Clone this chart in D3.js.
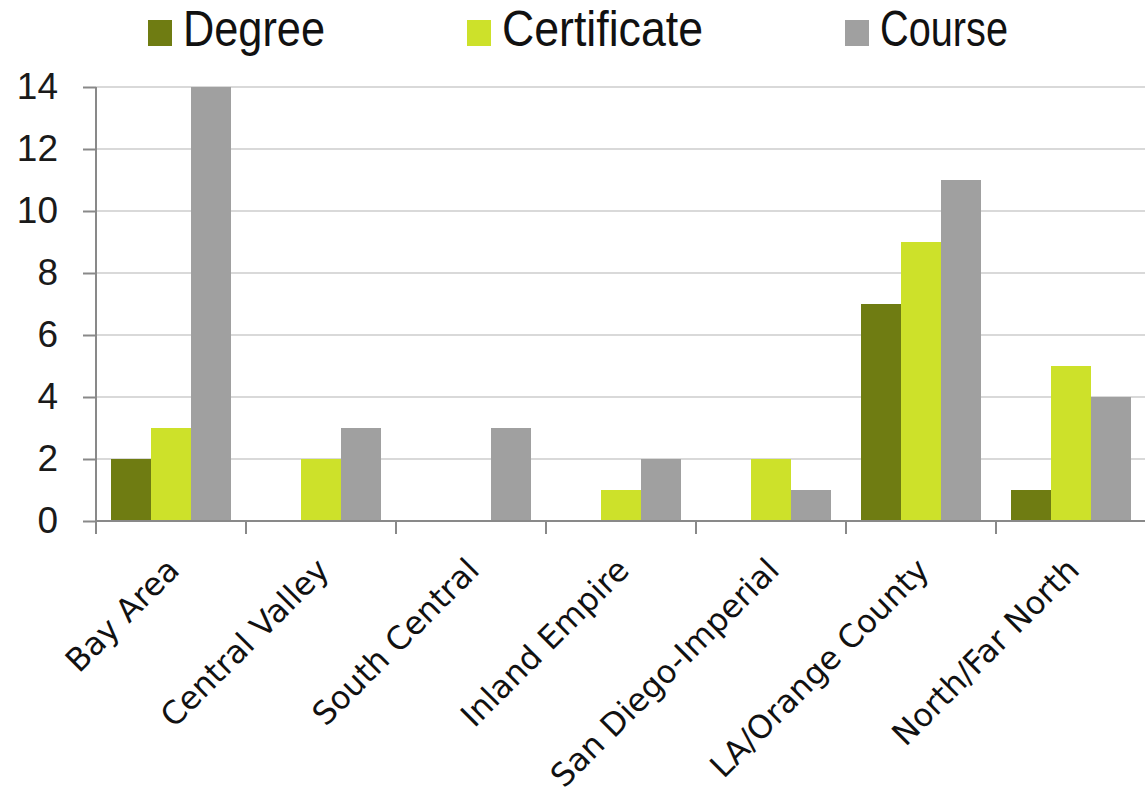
<!DOCTYPE html>
<html><head><meta charset="utf-8">
<script src="https://cdn.jsdelivr.net/npm/d3@7"></script>
<style>body{margin:0;background:#fff}svg{display:block}</style>
</head><body>
<svg id="c" width="1145" height="804"></svg>
<script>
const categories = ["Bay Area","Central Valley","South Central","Inland Empire","San Diego-Imperial","LA/Orange County","North/Far North"];
const seriesNames = ["Degree","Certificate","Course"];
const degree = [2,0,0,0,0,7,1];
const certificate = [3,2,0,1,2,9,5];
const course = [14,3,3,2,1,11,4];
const yTicks = [0,2,4,6,8,10,12,14];
const colors = ["#6f7c12","#cde12a","#a0a0a0"];
const series = [degree, certificate, course];

const svg = d3.select("#c");
const pLeft = 96, pRight = 1146, pTop = 87, pBottom = 521;
const x = d3.scaleBand().domain(categories).range([pLeft, pRight]).paddingInner(0.2).paddingOuter(0.1);
const xs = d3.scaleBand().domain(seriesNames).range([0, x.bandwidth()]);
const y = d3.scaleLinear().domain([0,14]).range([pBottom, pTop]);

// gridlines
svg.append("g").selectAll("line").data(yTicks.filter(d=>d>0)).join("line")
  .attr("x1", pLeft).attr("x2", 1145).attr("y1", d=>y(d)).attr("y2", d=>y(d))
  .attr("stroke", "#d9d9d9").attr("stroke-width", 2);

// y axis
const yAxis = svg.append("g").attr("transform", `translate(${pLeft},0)`)
  .call(d3.axisLeft(y).tickValues(yTicks).tickSize(13).tickPadding(25).tickFormat(d3.format("d")));
yAxis.select(".domain").attr("stroke", "#898989").attr("stroke-width", 2).attr("d", `M0,${pTop}H0V${pBottom}`);
yAxis.selectAll(".tick line").attr("stroke", "#898989").attr("stroke-width", 2);
yAxis.selectAll(".tick text").attr("font-family", "Liberation Sans, Arial, sans-serif").attr("font-size", 37).attr("fill", "#1a1a1a");

// bars
const g = svg.append("g");
series.forEach((vals, si) => {
  g.append("g").selectAll("rect").data(vals).join("rect")
    .attr("x", (d,i)=> x(categories[i]) + xs(seriesNames[si]))
    .attr("width", xs.bandwidth())
    .attr("y", d=>y(d)).attr("height", d=> y(0)-y(d))
    .attr("fill", colors[si]);
});

// x axis line & ticks at category boundaries
const boundaries = d3.range(categories.length+1).map(i => pLeft + i*x.step());
svg.append("line").attr("x1", pLeft).attr("x2", 1145).attr("y1", pBottom).attr("y2", pBottom)
  .attr("stroke", "#898989").attr("stroke-width", 2);
svg.append("g").selectAll("line").data(boundaries).join("line")
  .attr("x1", d=>d).attr("x2", d=>d).attr("y1", pBottom).attr("y2", pBottom+13)
  .attr("stroke", "#898989").attr("stroke-width", 2);

// x labels
svg.append("g").selectAll("text").data(categories).join("text")
  .attr("transform", d => `translate(${x(d)+x.bandwidth()/2+10},${572}) rotate(-45)`)
  .attr("text-anchor", "end")
  .attr("font-family", "DejaVu Sans, sans-serif").attr("font-size", 32).attr("fill", "#111")
  .text(d=>d);

// legend
const legX = [148, 467, 845];
const legW = [142, 201, 128];
const leg = svg.append("g");
seriesNames.forEach((n,i)=>{
  leg.append("rect").attr("x", legX[i]).attr("y", 20).attr("width", 24).attr("height", 26).attr("fill", colors[i]);
  leg.append("text").attr("x", legX[i]+35).attr("y", 46)
    .attr("font-family", "Liberation Sans, Arial, sans-serif").attr("font-size", 50).attr("fill", "#111")
    .attr("textLength", legW[i]).attr("lengthAdjust", "spacingAndGlyphs").text(n);
});
</script>
</body></html>
